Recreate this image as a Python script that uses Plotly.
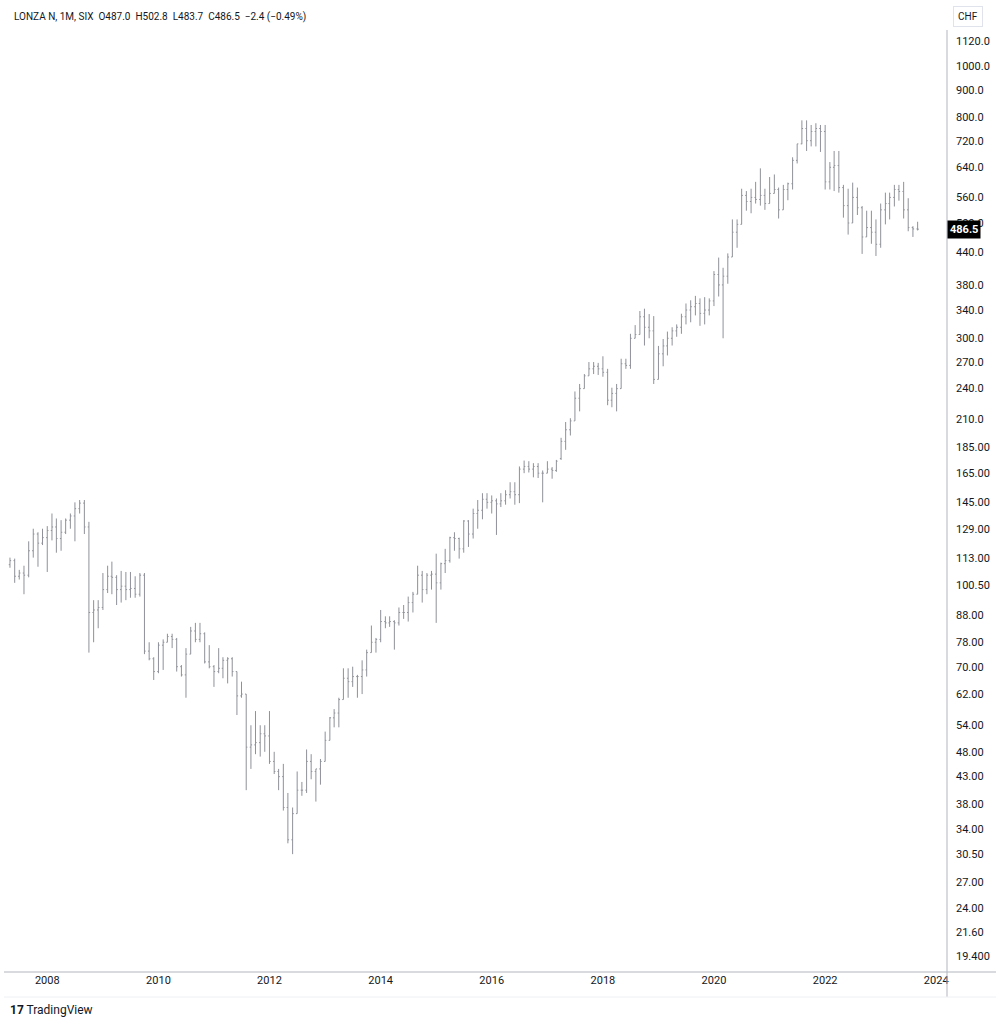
import math
import pandas as pd
import plotly.graph_objects as go

# Monthly bars, May 2007 .. Sep 2023
start_month = "2007-05-01"
n_bars = 197

open_ = [110, 112, 104.5, 106, 105, 117, 126, 121,
         124, 128, 130, 123.5, 127, 134, 136.5, 141, 144.5, 130, 89, 90,
         91, 98.5, 104.5, 104, 98.5, 100, 98.5, 99, 96.5, 105, 75, 72.5,
         68.5, 77, 78, 80, 79, 70, 67.5, 74, 82, 79, 81, 71.5,
         70, 68.5, 69.5, 72, 72.5, 68.5, 61.5, 62, 49, 49.5, 50, 52,
         51.5, 46, 44, 43, 37.5, 32.5, 36.5, 40.5, 40.5, 46, 44, 44.5,
         46, 50.5, 55.8, 57, 60.5, 66.5, 65.5, 67, 67, 69, 74.5, 78,
         79, 85.5, 85, 85.5, 85, 89, 89, 93, 96.5, 105, 98.5, 105,
         105.5, 101.5, 110.5, 112, 124, 123.5, 118, 133.5, 126, 138, 140, 147,
         145, 146, 144, 146, 150, 152, 150, 168, 170, 168, 170, 165,
         165, 168, 167, 176, 190, 200, 208, 230, 240, 254, 262, 265,
         262, 258, 228, 235, 240, 268, 266, 300, 305, 330, 315, 310,
         250, 280, 290, 300, 310, 315, 330, 340, 345, 350, 335, 340,
         354, 398, 380, 395, 430, 480, 497, 565, 550, 560, 555, 565,
         545, 570, 580, 530, 580, 595, 660, 710, 760, 720, 750, 760,
         750, 600, 640, 645, 585, 540, 500, 560, 535, 470, 490, 480,
         455, 530, 545, 560, 580, 575, 530, 490, 487]

high = [113.5, 113, 107.5, 109.5, 122, 129, 127, 129,
        130.5, 138, 135, 134, 135, 138, 145, 146.5, 146.5, 133, 94, 94,
        106, 109.5, 111.5, 105, 107, 106.5, 106.5, 104.5, 106, 106, 78, 73,
        78, 79, 81, 81, 79.5, 70.5, 76, 83.5, 85, 85, 81.5, 77,
        70.5, 76, 73, 73, 73, 68.5, 65.5, 62, 54, 57.5, 54, 54,
        57.5, 48, 44.5, 45.5, 40, 37.5, 44, 42, 48.5, 47.5, 44.5, 46.5,
        52.5, 56, 58, 61, 69.5, 69.5, 70, 67.5, 72, 75.5, 84, 79.5,
        90, 87.5, 87.5, 86, 91, 92, 95.5, 97.5, 109.5, 107, 106, 107,
        115.5, 111, 118, 124.5, 127, 124, 134, 134, 141, 146.5, 151, 151,
        149.5, 147.5, 151, 153, 158.5, 158.5, 170, 174.5, 174, 172.5, 172.5, 167,
        174, 169.5, 175, 193, 207, 210.5, 237, 245, 256, 270, 270, 269,
        277, 262, 241, 245, 274, 274, 306, 318, 338.5, 342, 334, 331,
        290, 299, 309, 315, 319, 334.5, 350, 355, 362, 358, 360, 358,
        404, 429, 410, 437, 508, 508, 582, 576, 582, 600, 637, 582,
        613, 620, 585, 592, 598, 669, 710, 788, 788, 772, 778, 772,
        772, 655, 688, 688, 592, 582, 598, 585, 539, 528, 528, 508,
        545, 572, 572, 592, 592, 600, 558, 493, 502.8]

low = [108.5, 101.5, 103, 96.5, 104, 113.5, 109, 120,
       106.5, 122.5, 116, 117, 126, 129, 122, 138, 126, 74.5, 78, 83,
       90, 97, 96.5, 92, 93, 94, 95, 95, 95.5, 74, 72, 66,
       68, 69, 78, 76, 68.5, 67, 61, 74, 78, 78, 71, 69.5,
       64, 68, 66.5, 65, 67, 56.5, 61, 40.5, 44.5, 47.5, 47, 48,
       45.5, 43.5, 40.5, 37, 32, 30.5, 36.5, 39.5, 40, 42.5, 38.5, 41.5,
       46, 50.5, 53.5, 53.5, 60.5, 61, 64, 61, 62, 67, 74.5, 74.5,
       78, 83, 83.5, 75.5, 84, 86.5, 85.5, 89, 96.5, 93, 96.5, 98.5,
       85, 98.5, 106, 111, 117, 113, 116, 119, 123.5, 129, 134.5, 141,
       138, 125.5, 142, 143.5, 147.5, 143.5, 144.5, 165, 165.5, 162, 161.5, 145,
       165, 161, 166, 175, 183, 195, 208, 217, 240, 254, 256, 255,
       253, 223, 221, 217, 240, 262, 262, 300, 305, 290.5, 300, 245,
       250, 265, 278, 290.5, 302, 306, 319, 322, 332, 317, 319, 332,
       346, 361, 300, 382, 430, 448, 497, 528, 522, 545, 540, 530,
       545, 570, 510, 530, 553, 580, 651, 709, 688, 702, 702, 685,
       580, 580, 576, 572, 512, 475, 500, 518, 436, 470, 456, 432,
       448, 497, 508, 538, 552, 510, 482, 470, 483.7]

close = [112, 104.5, 106, 105, 117, 126, 121, 124,
         128, 130, 123.5, 127, 134, 136.5, 141, 144.5, 130, 89, 90, 91,
         98.5, 104.5, 104, 98.5, 100, 98.5, 99, 96.5, 105, 75, 72.5, 68.5,
         77, 78, 80, 79, 70, 67.5, 74, 82, 79, 81, 71.5, 70,
         68.5, 69.5, 72, 72.5, 68.5, 61.5, 62, 49, 49.5, 50, 52, 51.5,
         46, 44, 43, 37.5, 32.5, 36.5, 40.5, 40.5, 46, 44, 44.5, 46,
         50.5, 55.8, 57, 60.5, 66.5, 65.5, 67, 67, 69, 74.5, 78, 79,
         85.5, 85, 85.5, 85, 89, 89, 93, 96.5, 105, 98.5, 105, 105.5,
         101.5, 110.5, 112, 124, 123.5, 118, 133.5, 126, 138, 140, 147, 145,
         146, 144, 146, 150, 152, 150, 168, 170, 168, 170, 165, 165,
         168, 167, 174, 190, 200, 208, 230, 240, 254, 262, 265, 262,
         258, 228, 235, 240, 268, 266, 300, 305, 330, 315, 310, 250,
         280, 290, 300, 310, 315, 330, 340, 345, 350, 335, 340, 354,
         398, 380, 395, 430, 480, 497, 565, 550, 560, 555, 565, 545,
         570, 580, 530, 580, 595, 660, 710, 760, 720, 750, 760, 750,
         600, 640, 645, 585, 540, 500, 560, 535, 470, 490, 480, 455,
         530, 545, 560, 580, 575, 530, 490, 487, 486.5]

price_ticks = [19.4, 21.6, 24, 27, 30.5, 34, 38, 43, 48, 54, 62, 70, 78, 88,
               100.5, 113, 129, 145, 165, 185, 210, 240, 270, 300, 340, 380,
               440, 500, 560, 640, 720, 800, 900, 1000, 1120]
price_tick_text = ["19.400", "21.60", "24.00", "27.00", "30.50", "34.00", "38.00",
                   "43.00", "48.00", "54.00", "62.00", "70.00", "78.00", "88.00",
                   "100.50", "113.00", "129.00", "145.00", "165.00", "185.00",
                   "210.0", "240.0", "270.0", "300.0", "340.0", "380.0", "440.0",
                   "500.0", "560.0", "640.0", "720.0", "800.0", "900.0", "1000.0",
                   "1120.0"]

title_text = "LONZA N, 1M, SIX  O487.0  H502.8  L483.7  C486.5  \u22122.4 (\u22120.49%)"
last_price = 486.5

dates = pd.date_range(start_month, periods=n_bars, freq="MS")

W, H = 1000, 1033
L, R, T, B = 8, 947, 30, 972
pw, ph = R - L, B - T


def px(x):
    return (x - L) / pw


def py(y):
    return (B - y) / ph


bar_col = "#8e9199"
fig = go.Figure(go.Ohlc(
    x=dates, open=open_, high=high, low=low, close=close,
    increasing=dict(line=dict(color=bar_col, width=1)),
    decreasing=dict(line=dict(color=bar_col, width=1)),
    tickwidth=0.28, hoverinfo="skip", showlegend=False,
))

font_family = "Roboto, 'Liberation Sans', sans-serif"
fig.update_layout(
    width=W, height=H,
    margin=dict(l=L, r=W - R, t=T, b=H - B),
    paper_bgcolor="white", plot_bgcolor="white",
    font=dict(family=font_family, size=11, color="#131722"),
    xaxis=dict(
        type="date", range=["2007-04-18", "2024-03-12"],
        rangeslider=dict(visible=False),
        showgrid=False, zeroline=False,
        showline=False,
        tick0="2008-01-01", dtick="M24", tickformat="%Y",
        ticks="", tickfont=dict(size=11, color="#131722"),
    ),
    yaxis=dict(
        type="log", side="right",
        range=[1.2575, 3.0704],
        tickvals=price_ticks, ticktext=price_tick_text,
        showgrid=False, zeroline=False, showline=False,
        ticks="", ticklabelstandoff=8,
        tickfont=dict(size=11, color="#131722"),
    ),
)

fig.add_shape(type="line", xref="paper", yref="paper",
              x0=px(4), x1=px(996), y0=0, y1=0,
              line=dict(color="#b2b5be", width=1))
fig.add_shape(type="line", xref="paper", yref="paper",
              x0=1, x1=1, y0=py(997), y1=py(30),
              line=dict(color="#b2b5be", width=1))
fig.add_shape(type="line", xref="paper", yref="paper",
              x0=px(4), x1=px(996), y0=py(997), y1=py(997),
              line=dict(color="#eef0f3", width=1))

fig.add_annotation(xref="paper", yref="paper", x=px(12), y=py(17),
                   text=title_text, showarrow=False, xanchor="left",
                   yanchor="middle", font=dict(size=10, color="#131722"))
fig.add_annotation(xref="paper", yref="paper", x=px(968), y=py(17),
                   text="CHF", showarrow=False, xanchor="center",
                   yanchor="middle", font=dict(size=10, color="#131722"),
                   bordercolor="#e0e3eb", borderwidth=1, borderpad=4,
                   bgcolor="white")
fig.add_annotation(xref="paper", yref="y", x=1.0, y=math.log10(last_price),
                   text="<b>%.1f</b>" % last_price, showarrow=False,
                   xanchor="left", yanchor="middle",
                   font=dict(size=11, color="white"),
                   bgcolor="#000000", borderpad=2)
fig.add_annotation(xref="paper", yref="paper", x=px(8), y=py(1010),
                   text="<b>17</b> TradingView", showarrow=False,
                   xanchor="left", yanchor="middle",
                   font=dict(size=12, color="#131722"))

fig.write_html("out.html", config={"displayModeBar": False},
               post_script="document.body.style.margin='0';")
